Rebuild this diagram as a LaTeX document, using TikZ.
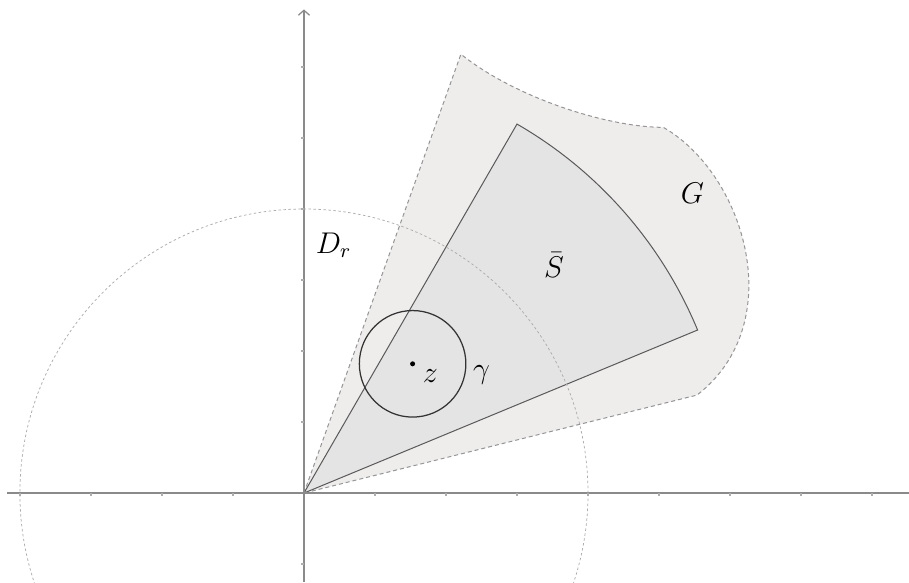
\documentclass[tikz,border=0pt]{standalone}
\usetikzlibrary{arrows.meta}
\definecolor{regionG}{HTML}{EFECEC}
\definecolor{sectorS}{HTML}{E4E4E4}
\definecolor{axisgray}{HTML}{8A8A8A}
\definecolor{edgegray}{HTML}{959595}
\begin{document}
\begin{tikzpicture}[>={Straight Barb[length=2pt,width=4.5pt]},font=\large,
 axis/.style={axisgray,line width=0.5pt},
 tickmark/.style={axisgray!70,line width=0.6pt},
 border/.style={edgegray,line width=0.4pt,dash pattern=on 1.6pt off 1.2pt},
 disk/.style={gray!65,line width=0.3pt,dash pattern=on 1pt off 1pt}]
\useasboundingbox (-4.28,-1.254) rectangle (8.52,6.943);
\coordinate (O) at (0,0);
\coordinate (gtop) at (2.21,6.18);
\coordinate (gmid) at (5.06,5.15);
\coordinate (gbot) at (5.535,1.38);
\coordinate (zc) at (1.53,1.82);
\filldraw[border,fill=regionG] (O) -- (gtop) .. controls (3.0,5.55) and (4.3,5.15) .. (gmid) .. controls (6.2,4.5) and (6.85,2.4) .. (gbot) -- cycle;
\filldraw[draw=black!65,fill=sectorS,line width=0.4pt] (O) -- (60:6) arc[start angle=60,end angle=22.5,radius=6] -- cycle;
\draw[axis] (-4.18,0) -- (8.52,0);
\draw[axis,->] (0,-1.254) -- (0,6.81);
\foreach \i in {-4,...,-1,1,2,...,8} \draw[tickmark] (\i,0) -- (\i,-0.04);
\foreach \j in {-1,1,2,...,6} \draw[tickmark] (0,\j) -- (-0.04,\j);
\draw[disk] (O) circle[radius=4];
\draw[black!80,line width=0.5pt] (zc) circle[radius=0.75];
\fill (zc) circle[radius=1pt];
\node (zlab) at (1.78,1.65) {$z$};
\node (gammalab) at (2.50,1.67) {$\gamma$};
\node (Dlab) at (0.42,3.49) {$D_r$};
\node (Slab) at (3.52,3.21) {$\bar S$};
\node (Glab) at (5.47,4.22) {$G$};
\end{tikzpicture}
\end{document}
